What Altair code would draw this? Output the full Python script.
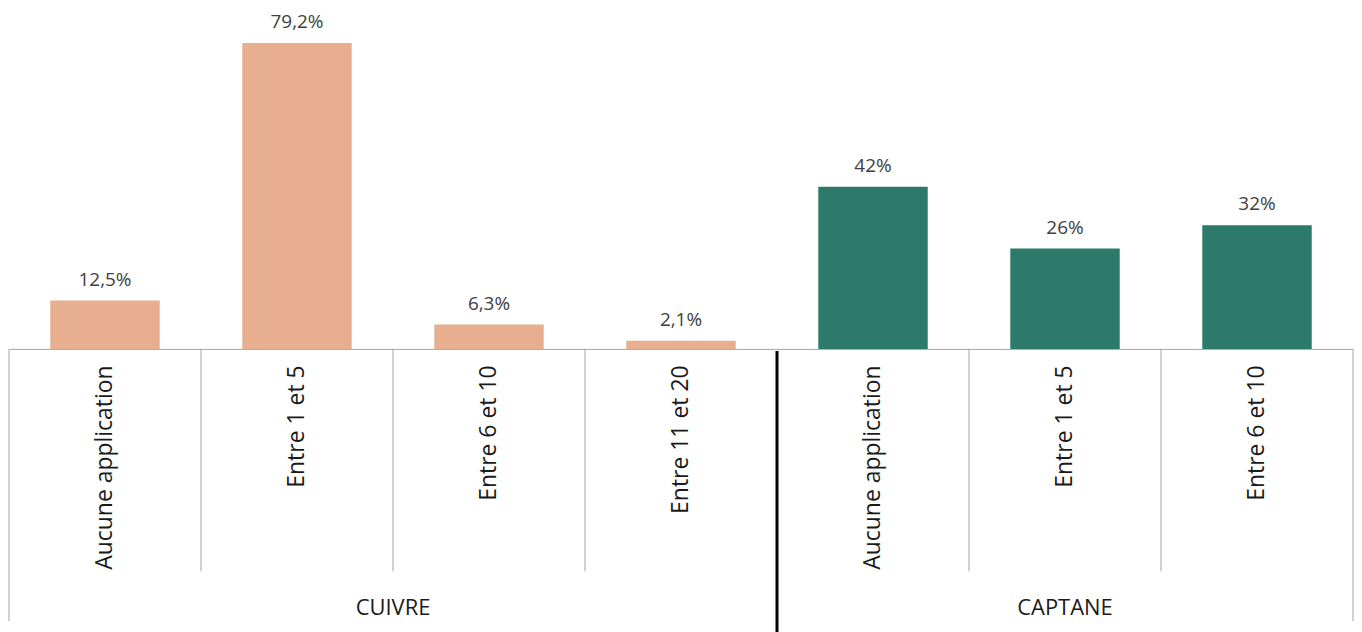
import altair as alt
import pandas as pd

groups = ["CUIVRE", "CUIVRE", "CUIVRE", "CUIVRE", "CAPTANE", "CAPTANE", "CAPTANE"]
categories = ["Aucune application", "Entre 1 et 5", "Entre 6 et 10", "Entre 11 et 20",
              "Aucune application", "Entre 1 et 5", "Entre 6 et 10"]
values = [12.5, 79.2, 6.3, 2.1, 42, 26, 32]
labels = ["12,5%", "79,2%", "6,3%", "2,1%", "42%", "26%", "32%"]

keys = [g + "|" + c for g, c in zip(groups, categories)]
df = pd.DataFrame({"key": keys, "group": groups, "cat": categories,
                   "value": values, "label": labels})

FONT = "Open Sans"
W = 1348
H = 341

xscale = alt.Scale(domain=keys, paddingInner=0, paddingOuter=0)
x_axis = alt.Axis(title=None, ticks=False, labelAngle=-90, labelPadding=16,
                  labelExpr="split(datum.label, '|')[1]", labelFont=FONT,
                  labelFontSize=23, labelColor="#1a1a1a", domainColor="#a6a6a6",
                  domainWidth=1, labelLimit=400)

base = alt.Chart(df)

bars = base.mark_bar(width=alt.RelativeBandSize(0.57)).encode(
    x=alt.X("key:N", scale=xscale, sort=keys, axis=x_axis),
    y=alt.Y("value:Q", scale=alt.Scale(domain=[0, 88], nice=False), axis=None),
    color=alt.Color("group:N", scale=alt.Scale(domain=["CUIVRE", "CAPTANE"],
                                               range=["#E7AF8F", "#2D7A6A"]), legend=None),
)

vals = base.mark_text(font=FONT, fontSize=19, color="#404040", baseline="alphabetic", dy=-15).encode(
    x=alt.X("key:N", scale=xscale, sort=keys),
    y=alt.Y("value:Q"),
    text="label:N",
)

inner_keys = [k for i, k in enumerate(keys) if i not in (0, 4)]
inner = alt.Chart(pd.DataFrame({"key": inner_keys})).mark_rule(color="#a6a6a6", strokeWidth=1).encode(
    x=alt.X("key:N", scale=xscale, sort=keys, bandPosition=0),
    y=alt.value(H), y2=alt.value(H + 223),
)
left_edge = alt.Chart(pd.DataFrame({"key": [keys[0]]})).mark_rule(color="#a6a6a6", strokeWidth=1).encode(
    x=alt.X("key:N", scale=xscale, sort=keys, bandPosition=0),
    y=alt.value(H), y2=alt.value(H + 273),
)
right_edge = alt.Chart(pd.DataFrame({"key": [keys[-1]]})).mark_rule(color="#a6a6a6", strokeWidth=1).encode(
    x=alt.X("key:N", scale=xscale, sort=keys, bandPosition=1),
    y=alt.value(H), y2=alt.value(H + 273),
)
sep = alt.Chart(pd.DataFrame({"key": [keys[4]]})).mark_rule(color="#000000", strokeWidth=3).encode(
    x=alt.X("key:N", scale=xscale, sort=keys, bandPosition=0),
    y=alt.value(H + 2), y2=alt.value(H + 284),
)
g1 = alt.Chart(pd.DataFrame({"key": [keys[2]], "g": ["CUIVRE"]})).mark_text(
    font=FONT, fontSize=22, color="#1a1a1a", baseline="middle").encode(
    x=alt.X("key:N", scale=xscale, sort=keys, bandPosition=0),
    y=alt.value(H + 260), text="g:N",
)
g2 = alt.Chart(pd.DataFrame({"key": [keys[5]], "g": ["CAPTANE"]})).mark_text(
    font=FONT, fontSize=22, color="#1a1a1a", baseline="middle").encode(
    x=alt.X("key:N", scale=xscale, sort=keys, bandPosition=0.5),
    y=alt.value(H + 260), text="g:N",
)

chart = alt.layer(bars, vals, inner, left_edge, right_edge, sep, g1, g2).properties(
    width=W, height=H, padding=0, background="white"
).configure_view(strokeWidth=0, stroke="transparent")

chart.save("out.html", embed_options={"renderer": "svg", "actions": False})
